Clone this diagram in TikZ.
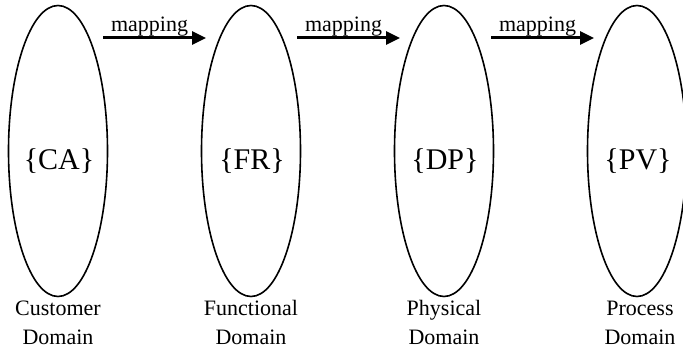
\documentclass[tikz,border=0pt]{standalone}
\usepackage{fontspec}
\setmainfont{Liberation Serif}
\usetikzlibrary{shapes.geometric,arrows.meta}
\begin{document}
\begin{tikzpicture}[x=1pt,y=1pt,
  domainbox/.style={draw, ellipse, line width=1.6pt, minimum width=99pt, minimum height=291pt, inner sep=0pt},
  settext/.style={font=\fontsize{30}{36}\selectfont, inner sep=0pt},
  dlabel/.style={font=\fontsize{22}{29}\selectfont, inner sep=0pt, anchor=base},
  maparrow/.style={line width=3pt, -{Triangle[length=14pt,width=13pt]}},
  maplabel/.style={font=\fontsize{22}{26}\selectfont, inner sep=0pt, anchor=base}]
\useasboundingbox (0,0) rectangle (683,349);
\node[domainbox] (ca) at (58,198) {};
\node[domainbox] (fr) at (251,198) {};
\node[domainbox] (dp) at (444,198) {};
\node[domainbox] (pv) at (637,198) {};
\node[settext] (cat) at (59,188) {\{CA\}};
\node[settext] (frt) at (252,188) {\{FR\}};
\node[settext] (dpt) at (445,188) {\{DP\}};
\node[settext] (pvt) at (638,188) {\{PV\}};
\node[dlabel] (cal1) at (58,33.5) {Customer};
\node[dlabel] (cal2) at (58,4.5) {Domain};
\node[dlabel] (frl1) at (251,33.5) {Functional};
\node[dlabel] (frl2) at (251,4.5) {Domain};
\node[dlabel] (dpl1) at (444,33.5) {Physical};
\node[dlabel] (dpl2) at (444,4.5) {Domain};
\node[dlabel] (pvl1) at (640,33.5) {Process};
\node[dlabel] (pvl2) at (640,4.5) {Domain};
\coordinate (a1s) at (103,311); \coordinate (a1e) at (206,311);
\coordinate (a2s) at (297,311); \coordinate (a2e) at (400,311);
\coordinate (a3s) at (491,311); \coordinate (a3e) at (594,311);
\draw[maparrow] (a1s) -- (a1e);
\draw[maparrow] (a2s) -- (a2e);
\draw[maparrow] (a3s) -- (a3e);
\node[maplabel] (m1) at (149.5,317) {mapping};
\node[maplabel] (m2) at (343.5,317) {mapping};
\node[maplabel] (m3) at (537.5,317) {mapping};
\end{tikzpicture}
\end{document}
